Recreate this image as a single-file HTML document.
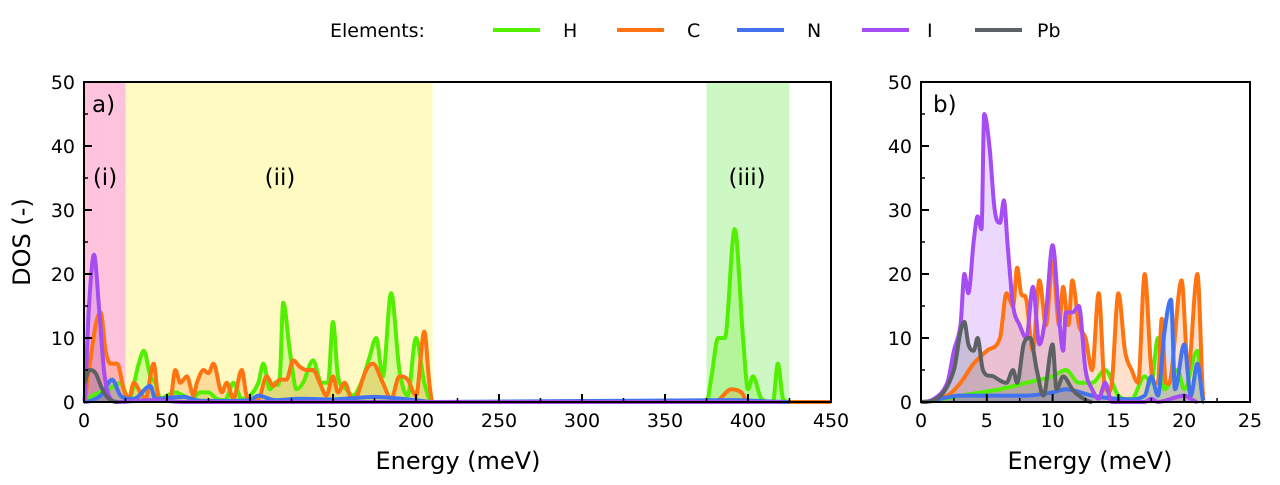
<!DOCTYPE html>
<html><head><meta charset="utf-8"><style>
body{margin:0;background:#fff}
svg text{font-family:"DejaVu Sans","Liberation Sans",sans-serif;fill:#000}
</style></head><body>
<svg id="c" width="1280" height="480" viewBox="0 0 1280 480" xmlns="http://www.w3.org/2000/svg">
<g id="legend">
<text x="330" y="37" font-size="19">Elements:</text>
</g>
<g id="pa"></g>
<g id="pb"></g>
<text transform="translate(30,242) rotate(-90)" text-anchor="middle" font-size="24">DOS (-)</text>
<text x="458" y="469" text-anchor="middle" font-size="24">Energy (meV)</text>
<text x="1090" y="469" text-anchor="middle" font-size="24">Energy (meV)</text>
</svg>
<script>
const elements=['H','C','N','I','Pb'];
const colors=['#52f000','#ff7410','#4272ee','#a54cf2','#5c6264'];
// panel a data: [energy, dos]
const aH=[[0,0],[5,1],[15,2],[22,3],[27,0.5],[33,6],[36,8],[40,4],[43,3],[46,0.5],[50,1],[55,1.5],[60,1],[65,0.5],[70,1.5],[75,1.5],[80,0.5],[85,0.3],[90,3],[95,0.5],[100,1],[105,3],[108,6],[112,2],[115,3],[118,4],[120,15.5],[124,8],[128,2],[132,3],[138,6.5],[143,3],[147,3],[150,12.5],[153,4],[158,2],[162,1],[167,3],[172,7],[176,10],[180,4],[185,17],[190,5],[195,1],[200,10],[205,3],[210,0],[375,0],[378,4],[382,10],[386,10],[392,27],[397,10],[400,2],[403,4],[408,0.5],[415,0],[418,6],[421,0.5],[425,0]];
const aC=[[0,0],[3,5],[7,12],[10,14],[13,8],[16,6],[20,6],[24,2],[27,0.5],[30,3],[34,1.5],[37,0.5],[42,6],[45,0.5],[52,0.5],[55,5],[58,3],[62,4],[66,1],[68,3],[72,5],[75,4.5],[78,6],[83,1.5],[86,3],[90,0.5],[95,5],[98,1],[105,0.5],[110,4],[114,2.5],[118,3.5],[122,3.5],[126,6.5],[130,5.5],[134,5],[138,5],[142,3],[146,1],[150,4],[153,1.5],[157,3],[162,0],[170,5],[174,6],[180,3],[185,0.5],[190,4],[195,3.5],[200,1],[205,11],[208,3],[210,0],[380,0],[390,2],[396,1.5],[400,0],[450,0]];
const aN=[[0,0],[10,1],[17,3.5],[22,1],[30,0.5],[40,2.5],[43,0.5],[60,0.8],[70,0.2],[100,0.3],[105,1],[115,0.3],[130,0.5],[150,0.4],[175,0.8],[200,0.3],[210,0],[390,0.3],[425,0]];
const aI=[[0,0],[3,15],[6,23],[9,15],[12,5],[15,1],[20,0],[40,0.3],[60,0],[420,0]];
const aPb=[[0,3],[3,5],[7,4.5],[11,2],[15,0.5],[20,0]];
// panel b data
const bH=[[0,0],[3,1],[6,2],[8,3],[10,4],[11,5],[12,3],[13,3],[14,5],[15,1],[16,0.5],[17,4],[17.5,3],[18,10],[18.5,2],[19.5,5],[20,2],[21,8],[21.5,0]];
const bC=[[0,0],[2,1],[3,3],[4,6],[5,8],[6,10],[6.5,17],[7,15],[7.3,21],[7.6,17],[8,16],[8.5,8],[9,19],[9.5,12],[10,22],[10.5,12],[10.8,18],[11.2,12],[11.5,19],[12,12],[12.5,10],[13,5],[13.5,17],[14,2],[14.5,3],[15,17],[15.5,8],[16,5],[16.5,3],[17,20],[17.5,5],[18,3],[18.3,13],[18.6,3],[19,4],[19.8,19],[20.3,5],[21,20],[21.5,0]];
const bN=[[0,0],[3,1],[8,1],[10,1.5],[11,2],[13,1],[15,0.5],[17,1],[17.5,4],[18,1],[18.5,11],[19,16],[19.3,2],[20,9],[20.5,1],[21,6],[21.5,0]];
const bI=[[0,0],[1,0.5],[2,3],[2.5,8],[3,12],[3.3,20],[3.6,17],[4,25],[4.3,29],[4.6,27],[4.8,45],[5.2,40],[5.6,30],[6,28],[6.3,31.5],[6.6,24],[7,15],[7.5,12],[8,10],[8.5,18],[9,9],[9.5,14],[10,24.5],[10.5,13],[10.8,8],[11,14],[11.5,14],[12,15],[12.5,5],[13,2],[13.5,0.5],[14,3],[14.5,0],[17,0],[17.5,0.5],[18,0],[20,1],[21,0]];
const bPb=[[0,0],[1.5,1],[2.5,5],[3,11],[3.3,12.5],[3.6,9],[4,8],[4.3,10],[4.7,5],[5.5,4],[6.5,3],[7,5],[7.3,3],[7.8,9],[8.3,10],[8.8,5],[9.3,1],[10,9],[10.3,2],[10.8,4],[11.5,2],[12,1],[13,0]];
const regions=[[0,25,'#ffc3de','(i)',105],[25,210,'#fffac2','(ii)',280],[375,425,'#cdf8c4','(iii)',747]];
const aTicks=[0,50,100,150,200,250,300,350,400,450];
const bTicks=[0,5,10,15,20,25];
const yTicks=[0,10,20,30,40,50];

const NS='http://www.w3.org/2000/svg';
function mk(t,a,p){const e=document.createElementNS(NS,t);for(const k in a)e.setAttribute(k,a[k]);p.appendChild(e);return e;}
const Y0=402,Y1=82;
function yS(v){return Y0-(v/50)*(Y0-Y1);}
function pathFor(pts,xs){
  const P=pts.map(p=>[xs(p[0]),yS(p[1])]);
  const n=P.length,m=[];
  for(let i=0;i<n;i++){
    const a=P[Math.max(0,i-1)],b=P[Math.min(n-1,i+1)];
    const s1=i>0?(P[i][1]-P[i-1][1])/(P[i][0]-P[i-1][0]||1):0;
    const s2=i<n-1?(P[i+1][1]-P[i][1])/(P[i+1][0]-P[i][0]||1):0;
    m.push(s1*s2<=0?0:(b[1]-a[1])/(b[0]-a[0]||1));
  }
  let d='M'+P[0][0].toFixed(1)+','+P[0][1].toFixed(1);
  for(let i=0;i<n-1;i++){
    const h=P[i+1][0]-P[i][0];
    const c1=[P[i][0]+h/3,Math.min(Y0,P[i][1]+m[i]*h/3)];
    const c2=[P[i+1][0]-h/3,Math.min(Y0,P[i+1][1]-m[i+1]*h/3)];
    d+=' C'+c1[0].toFixed(1)+','+c1[1].toFixed(1)+' '+c2[0].toFixed(1)+','+c2[1].toFixed(1)+' '+P[i+1][0].toFixed(1)+','+P[i+1][1].toFixed(1);
  }
  return {d,x0:P[0][0],x1:P[n-1][0]};
}
function panel(g,xs,x0,x1,xmax,ticks,minorStep,series,label,labelX){
  if(g.id==='pa'){
    regions.forEach(r=>{
      const e=mk('rect',{x:xs(r[0]),y:Y1,width:xs(r[1])-xs(r[0]),height:Y0-Y1,fill:r[2]},g);
      
      
      const t=mk('text',{x:r[4],y:185,'font-size':23,'text-anchor':'middle'},g);t.textContent=r[3];
      
      
    });
  }
  series.forEach((s,i)=>{
    const p=pathFor(s,xs);
    const f=mk('path',{d:p.d+' L'+p.x1+','+Y0+' L'+p.x0+','+Y0+' Z',fill:colors[i],'fill-opacity':0.22,stroke:'none'},g);
    
    
  });
  series.forEach((s,i)=>{
    const p=pathFor(s,xs);
    const l=mk('path',{d:p.d,fill:'none',stroke:colors[i],'stroke-width':4,'stroke-linejoin':'round'},g);
    
    
  });
  const fr=mk('rect',{x:x0,y:Y1,width:x1-x0,height:Y0-Y1,fill:'none',stroke:'#000','stroke-width':2},g);
  
  
  for(let v=0;v<=xmax+1e-9;v+=minorStep){mk('line',{x1:xs(v),x2:xs(v),y1:Y0,y2:Y0-4,stroke:'#000','stroke-width':1.5},g);}
  ticks.forEach(v=>{
    mk('line',{x1:xs(v),x2:xs(v),y1:Y0,y2:Y0-8,stroke:'#000','stroke-width':2},g);
    const t=mk('text',{x:xs(v),y:Y0+25,'font-size':19,'text-anchor':'middle'},g);t.textContent=v;
    
    
  });
  for(let v=0;v<=50;v+=5){mk('line',{x1:x0,x2:x0+(v%10?4:8),y1:yS(v),y2:yS(v),stroke:'#000','stroke-width':v%10?1.5:2},g);}
  yTicks.forEach(v=>{
    const t=mk('text',{x:x0-9,y:yS(v)+7,'font-size':19,'text-anchor':'end'},g);t.textContent=v;
    
    
  });
  const pl=mk('text',{x:labelX,y:112,'font-size':23},g);pl.textContent=label;
  
  
}
const xa=v=>84+v*(831-84)/450;
const xb=v=>921+v*(1250-921)/25;
panel(document.getElementById('pa'),xa,84,831,450,aTicks,25,[aH,aC,aN,aI,aPb],'a)',92);
panel(document.getElementById('pb'),xb,921,1250,25,bTicks,2.5,[bH,bC,bN,bI,bPb],'b)',933);
const lg=document.getElementById('legend');
const lx=[493,617,737,862,975];
elements.forEach((e,i)=>{
  const l=mk('line',{x1:lx[i],x2:lx[i]+47,y1:30,y2:30,stroke:colors[i],'stroke-width':4},lg);
  
  
  const t=mk('text',{x:lx[i]+(i==3?65:i==4?62:70),y:37,'font-size':19},lg);t.textContent=e;
  
  
});
</script>
</body></html>
